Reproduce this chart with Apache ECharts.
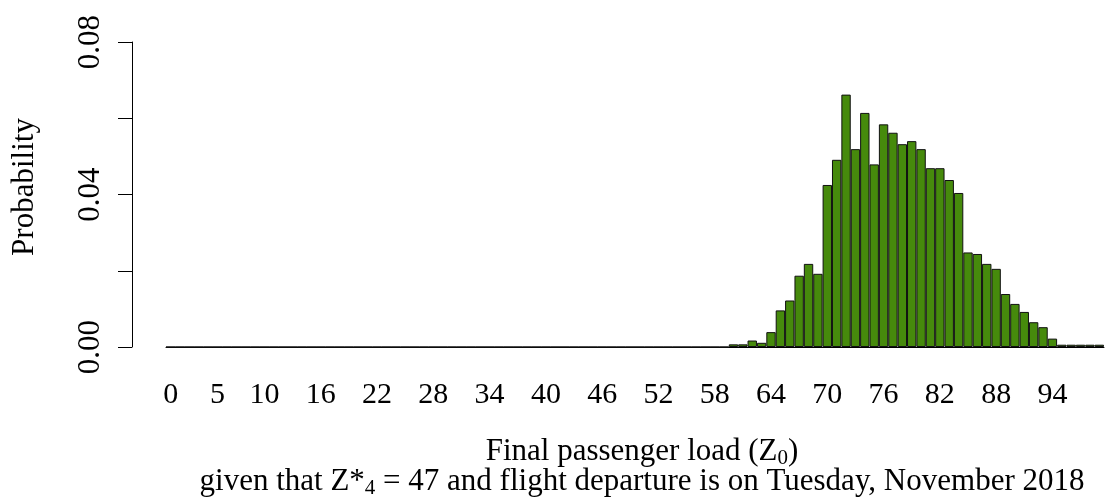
<!DOCTYPE html>
<html>
<head>
<meta charset="utf-8">
<script src="https://cdn.jsdelivr.net/npm/echarts@6/dist/echarts.min.js"></script>
<style>
html,body{margin:0;padding:0;background:#fff;}
#chart{width:1109px;height:501px;}
</style>
</head>
<body>
<div id="chart"></div>
<script>
var categories = [0,1,2,3,4,5,6,7,8,9,10,11,12,13,14,15,16,17,18,19,
  20,21,22,23,24,25,26,27,28,29,30,31,32,33,34,35,36,37,38,39,
  40,41,42,43,44,45,46,47,48,49,50,51,52,53,54,55,56,57,58,59,
  60,61,62,63,64,65,66,67,68,69,70,71,72,73,74,75,76,77,78,79,
  80,81,82,83,84,85,86,87,88,89,90,91,92,93,94,95,96,97,98,99];

var probability = [0,0,0,0,0,0,0,0,0,0,0,0,0,0,0,0,0,0,0,0,
  0,0,0,0,0,0,0,0,0,0,0,0,0,0,0,0,0,0,0,0,
  0,0,0,0,0,0,0,0,0,0,0,0,0,0,0,0,0,0,0,0,
  0.0007,0.0007,0.0017,0.0011,0.0039,0.0096,0.0122,0.0187,0.0218,0.0192,
  0.0425,0.0491,0.0662,0.0519,0.0614,0.0479,0.0584,0.0562,0.0532,0.0540,
  0.0519,0.0469,0.0469,0.0438,0.0404,0.0248,0.0244,0.0218,0.0205,0.0139,
  0.0113,0.0092,0.0065,0.0052,0.0022,0.0006,0.0006,0.0006,0.0006,0.0006];

var xTickLabels = [0,5,10,16,22,28,34,40,46,52,58,64,70,76,82,88,94];
var yTickLabels = ['0.00','0.04','0.08'];

var FONT = 'Liberation Serif';
var chart = echarts.init(document.getElementById('chart'), null, {renderer:'canvas'});

chart.setOption({
  animation: false,
  backgroundColor: '#ffffff',
  grid: {left:166, right:5, top:42, bottom:154, containLabel:false, outerBoundsMode:'none'},
  xAxis: {
    type: 'category',
    data: categories,
    boundaryGap: true,
    axisLine: {show:true, lineStyle:{color:'#000', width:1}},
    axisTick: {show:false},
    axisLabel: {
      interval: function(index, value){ return xTickLabels.indexOf(Number(value)) >= 0; },
      margin: 33,
      fontFamily: FONT,
      fontSize: 30,
      color: '#000'
    },
    splitLine: {show:false}
  },
  yAxis: {
    type: 'value',
    min: 0, max: 0.08, interval: 0.02,
    offset: 34,
    axisLine: {show:true, lineStyle:{color:'#000', width:1}},
    axisTick: {show:true, length:14, lineStyle:{color:'#000', width:1}},
    splitLine: {show:false},
    axisLabel: {
      rotate: 90,
      margin: 26,
      fontFamily: FONT,
      fontSize: 31,
      color: '#000',
      formatter: function(v){
        var s = v.toFixed(2);
        return yTickLabels.indexOf(s) >= 0 ? s : '';
      }
    }
  },
  series: [{
    type: 'bar',
    data: probability,
    barCategoryGap: '0%',
    itemStyle: {color:'#468A0C', borderColor:'#111', borderWidth:1}
  }],
  graphic: [
    {
      type: 'text', x: 25, y: 187, rotation: Math.PI / 2,
      style: {
        text: 'Probability',
        align: 'center', verticalAlign: 'middle',
        fontFamily: FONT, fontSize: 31, fill: '#000'
      }
    },
    {
      type: 'text', x: 642, y: 452,
      style: {
        text: 'Final passenger load (Z{sub|0})',
        align: 'center', verticalAlign: 'middle',
        fontFamily: FONT, fontSize: 31, fill: '#000', lineHeight: 34,
        rich: {sub: {fontFamily: FONT, fontSize: 21, lineHeight: 16, verticalAlign: 'bottom', fill:'#000'}}
      }
    },
    {
      type: 'text', x: 642, y: 482,
      style: {
        text: 'given that Z*{sub|4} = 47 and flight departure is on Tuesday, November 2018',
        align: 'center', verticalAlign: 'middle',
        fontFamily: FONT, fontSize: 31, fill: '#000', lineHeight: 34,
        rich: {sub: {fontFamily: FONT, fontSize: 21, lineHeight: 16, verticalAlign: 'bottom', fill:'#000'}}
      }
    }
  ]
});
</script>
</body>
</html>
